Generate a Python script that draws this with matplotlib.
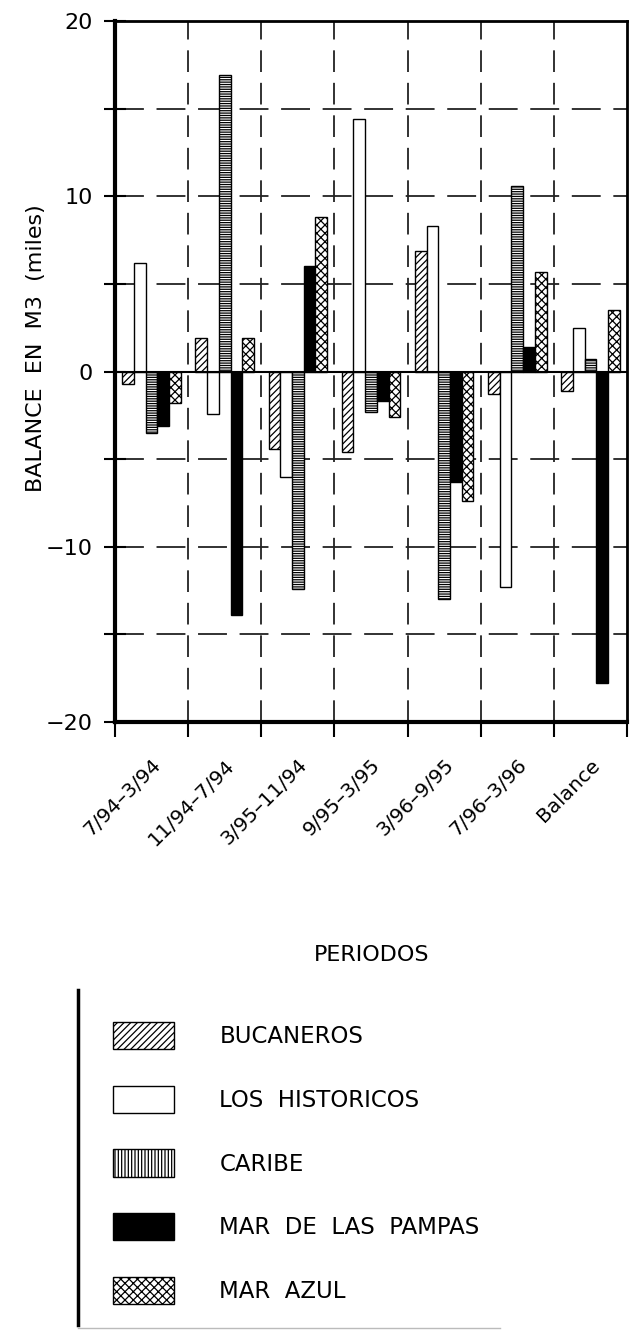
import matplotlib
matplotlib.use("Agg")
import matplotlib.pyplot as plt
import numpy as np
from matplotlib.patches import Patch
from matplotlib.lines import Line2D

periods = ["7/94\u20133/94", "11/94\u20137/94", "3/95\u201311/94", "9/95\u20133/95",
           "3/96\u20139/95", "7/96\u20133/96", "Balance"]
bucaneros = [-0.7, 1.9, -4.4, -4.6, 6.9, -1.3, -1.1]
historicos = [6.2, -2.4, -6.0, 14.4, 8.3, -12.3, 2.5]
caribe = [-3.5, 16.9, -12.4, -2.3, -13.0, 10.6, 0.7]
pampas = [-3.1, -13.9, 6.0, -1.7, -6.3, 1.4, -17.8]
azul = [-1.8, 1.9, 8.8, -2.6, -7.4, 5.7, 3.5]

series_names = ["BUCANEROS", "LOS  HISTORICOS", "CARIBE", "MAR  DE  LAS  PAMPAS", "MAR  AZUL"]
series_vals = [bucaneros, historicos, caribe, pampas, azul]
bar_hatch = ["/////", "", "-------", "", "xxxx"]
leg_hatch = ["/////", "", "|||||", "", "xxxx"]
faces = ["white", "white", "white", "black", "white"]

plt.rcParams['font.family'] = ['DejaVu Sans']
plt.rcParams['hatch.linewidth'] = 0.9

fig = plt.figure(figsize=(6.31, 13.31), dpi=100)
ax = fig.add_axes([115/631, 1 - 722/1331, (627 - 115)/631, (722 - 21)/1331])

x = np.arange(len(periods)) + 0.5
w = 0.16
offsets = [-2, -1, 0, 1, 2]
for name, vals, h, fc, off in zip(series_names, series_vals, bar_hatch, faces, offsets):
    ax.bar(x + off * w, vals, width=w, color=fc, edgecolor="black", hatch=h,
           linewidth=1.0, zorder=3)

ax.set_xlim(0, len(periods))
ax.set_ylim(-20, 20)

# grid
for yv in [-15, -10, -5, 5, 10, 15]:
    ax.axhline(yv, color="#222222", lw=1.3, dashes=(16, 7), zorder=1)
for xv in range(1, len(periods)):
    ax.axvline(xv, color="#222222", lw=1.3, dashes=(12, 6), zorder=1)
ax.axhline(0, color="black", lw=1.5, zorder=4)

ax.set_yticks([-20, -10, 0, 10, 20])
ax.set_yticklabels(["\u221220", "\u221210", "0", "10", "20"])
ax.set_yticks([-15, -5, 5, 15], minor=True)
ax.tick_params(axis="y", which="both", direction="inout", length=16, width=1.5,
               labelsize=16, pad=8)
ax.set_xticks(x)
ax.set_xticklabels(periods, rotation=45, ha="right", rotation_mode="anchor",
                   fontsize=14.5)
ax.set_xticks(np.arange(0, len(periods) + 1), minor=True)
ax.tick_params(axis="x", which="major", length=0, pad=24)
ax.tick_params(axis="x", which="minor", direction="out", length=11, width=1.5)

for s in ["left", "bottom"]:
    ax.spines[s].set_linewidth(3)
for s in ["top", "right"]:
    ax.spines[s].set_linewidth(2)

ax.set_ylabel("BALANCE  EN  M3  (miles)", fontsize=16)
ax.yaxis.set_label_coords((46 - 115) / 512, (722 - 348) / 701)
fig.text(372/631, 1 - 955/1331, "PERIODOS", ha="center", va="center", fontsize=16)

# legend
handles = [Patch(facecolor=fc, edgecolor="black", hatch=h, linewidth=1.0)
           for fc, h in zip(faces, leg_hatch)]
leg = fig.legend(handles, series_names, loc="upper left",
                 bbox_to_anchor=(92/631, 1 - 1001/1331), frameon=False,
                 fontsize=16.5, handlelength=2.66, handleheight=1.45,
                 labelspacing=1.6, handletextpad=2.0)

fig.add_artist(Line2D([78/631, 78/631], [1 - 990/1331, 1 - 1325/1331],
                      transform=fig.transFigure, color="black", lw=2.5))
fig.add_artist(Line2D([78/631, 500/631], [1 - 1328/1331, 1 - 1328/1331],
                      transform=fig.transFigure, color="#bbbbbb", lw=1.0))

fig.savefig("out.png", dpi=100)
